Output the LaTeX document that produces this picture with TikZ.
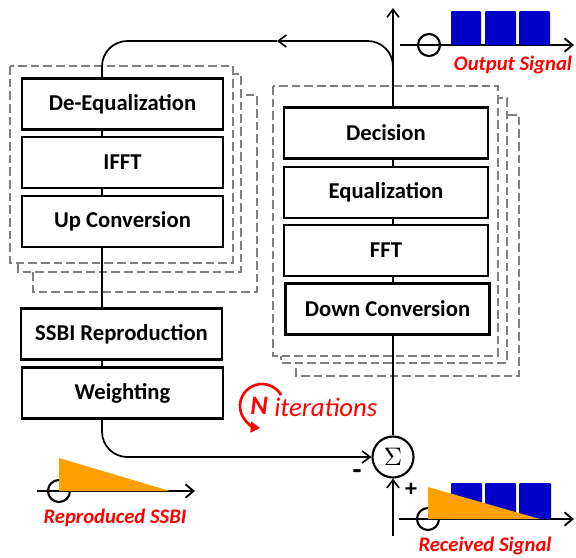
\documentclass[tikz,border=0pt]{standalone}
\usepackage{fontspec}
\setmainfont{Carlito}
\usetikzlibrary{arrows.meta}
\definecolor{sigred}{RGB}{255,0,0}
\definecolor{sigblue}{RGB}{0,0,200}
\definecolor{sigorange}{RGB}{255,160,0}
\definecolor{framegray}{RGB}{128,128,128}
\begin{document}
\begin{tikzpicture}[x=0.75pt,y=-0.75pt,
  sbarb/.tip={Straight Barb[length=6pt,width=9pt,line width=1.2pt]},
  blkbase/.style={draw,line width=2pt,fill=white,minimum height=38.25pt,
    inner sep=0pt,font=\fontsize{17}{19}\selectfont\bfseries},
  lblk/.style={blkbase,minimum width=150.75pt},
  rblk/.style={blkbase,minimum width=153pt},
  frame/.style={draw=framegray,line width=1.5pt,dash pattern=on 6.5pt off 3pt,fill=white},
  conn/.style={draw,line width=1.3pt},
  sumnode/.style={draw,circle,line width=1.6pt,minimum size=30.75pt,inner sep=0pt,fill=white},
  axisline/.style={line width=1.6pt,-{Straight Barb[length=6pt,width=10pt,line width=1.4pt]}},
  marker/.style={line width=1.6pt},
  sigbox/.style={fill=sigblue,rounded corners=0.8pt},
  lab/.style={text=sigred,font=\fontsize{15.5}{18}\selectfont\bfseries\itshape}
]
\path[use as bounding box] (0,0) rectangle (576,558);

% dashed frames (left)
\draw[frame] (33,95) rectangle (257,292);
\draw[frame] (18,74) rectangle (241,272);
\draw[frame] (10,66) rectangle (233,263);
% dashed frames (right)
\draw[frame] (296,115) rectangle (519,376);
\draw[frame] (281,98) rectangle (507,363);
\draw[frame] (273,86) rectangle (498,356);

\coordinate (lx) at (102,0);
\coordinate (rx) at (393,0);
\coordinate (looptop) at (0,41);
\coordinate (arrowpt) at (277,41);
\coordinate (branch) at (393,75);
\coordinate (outtop) at (393,8);
\coordinate (rin) at (393,536);

% blocks
\node[lblk] (deq) at (122.5,104) {De-Equalization};
\node[lblk] (ifft) at (122.5,162.5) {IFFT};
\node[lblk] (upc) at (122.5,221.5) {Up Conversion};
\node[lblk] (ssbi) at (121.5,334) {SSBI Reproduction};
\node[lblk] (wt) at (122.5,393) {Weighting};
\node[rblk] (dec) at (386,133) {Decision};
\node[rblk] (eq) at (386,192.5) {Equalization};
\node[rblk] (fft) at (386,250.5) {FFT};
\node[rblk] (dc) at (387.5,309) {Down Conversion};
\node[sumnode] (sig) at (393,457) {\scalebox{1.9}{$\Sigma$}};

% connectors left
\draw[conn] (deq.south -| lx) -- (ifft.north -| lx);
\draw[conn] (ifft.south -| lx) -- (upc.north -| lx);
\draw[conn] (upc.south -| lx) -- (ssbi.north -| lx);
\draw[conn] (ssbi.south -| lx) -- (wt.north -| lx);
\draw[conn,rounded corners=19pt,-sbarb] (wt.south -| lx) -- (lx |- sig) -- (sig.west);
% connectors right
\draw[conn] (dec.south -| rx) -- (eq.north -| rx);
\draw[conn] (eq.south -| rx) -- (fft.north -| rx);
\draw[conn] (fft.south -| rx) -- (dc.north -| rx);
\draw[conn] (dc.south -| rx) -- (sig.north);
\draw[conn,-sbarb] (rin) -- (sig.south);
\draw[conn,-sbarb] (dec.north -| rx) -- (outtop);
% feedback loop
\draw[conn,rounded corners=19pt,-sbarb] (branch) -- (rx |- looptop) -- (arrowpt);
\draw[conn,rounded corners=19pt] (arrowpt) -- (lx |- looptop) -- (deq.north -| lx);

% signs
\node[font=\fontsize{22}{22}\selectfont\bfseries] (minus) at (357,475) {-};
\node[font=\fontsize{18}{18}\selectfont\bfseries] (plus) at (411,490) {+};

% N iterations
\draw[sigred,line width=2pt,-{Triangle[length=7pt,width=8pt]}] (262,406) ++(30:16.5pt) arc[start angle=30,end angle=265,radius=16.5pt];
\node[text=sigred,font=\fontsize{20}{22}\selectfont\bfseries\itshape] (nn) at (259,406) {N};
\node[text=sigred,font=\fontsize{20}{22}\selectfont\itshape,anchor=west,inner sep=0pt] (iter) at (274,407) {iterations};

% Output signal
\draw[axisline] (400,45) -- (574,45);
\draw[marker] (429,45) circle (8.25pt);
\fill[sigbox] (451,11) rectangle (481,45);
\fill[sigbox] (485,11) rectangle (516,45);
\fill[sigbox] (519,11) rectangle (550,45);
\node[lab] (outlab) at (513,65) {Output Signal};

% Reproduced SSBI
\draw[axisline] (37,491) -- (195,491);
\draw[marker] (59,491) circle (8.25pt);
\fill[sigorange] (59,458) -- (59,491) -- (170,491) -- cycle;
\node[lab] (reslab) at (115,518) {Reproduced SSBI};

% Received signal
\draw[axisline] (399,519) -- (574,519);
\draw[marker] (428,519) circle (8.25pt);
\fill[sigbox] (451,483) rectangle (482,519);
\fill[sigbox] (485,483) rectangle (516,519);
\fill[sigbox] (519,483) rectangle (551,519);
\fill[sigorange] (428,487) -- (428,519) -- (540,519) -- cycle;
\node[lab] (reclab) at (485,546) {Received Signal};
\end{tikzpicture}
\end{document}
